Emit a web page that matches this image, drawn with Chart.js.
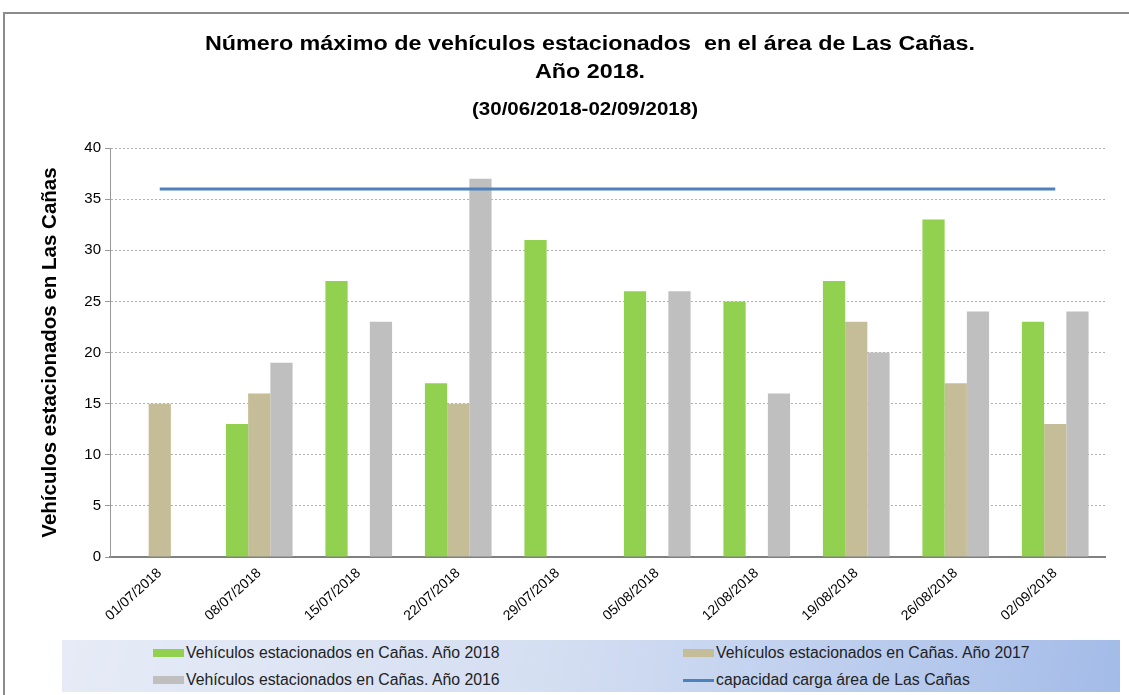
<!DOCTYPE html>
<html>
<head>
<meta charset="utf-8">
<script src="https://cdn.jsdelivr.net/npm/chart.js@4"></script>
<style>
  html, body { margin: 0; padding: 0; background: #fff; }
  #wrap { position: relative; width: 1129px; height: 695px; overflow: hidden; font-family: "Liberation Sans", Arial, sans-serif; }
  #frame { position: absolute; left: 3px; top: 12px; right: -5px; bottom: -5px; border-left: 2px solid #8c8c8c; border-top: 2px solid #8c8c8c; }
  canvas { position: absolute; left: 0; top: 0; }
  #leyenda { position: absolute; left: 62px; top: 640px; width: 1058px; height: 52px;
    background: linear-gradient(100deg, #e6ebf6 0%, #d5dff2 45%, #b3c7ec 85%, #a3bbe8 100%); }
  .item { position: absolute; font-size: 15.8px; color: #222; white-space: nowrap; display: flex; align-items: center; height: 20px; }
  .sw { display: inline-block; width: 31px; height: 8px; margin-right: 2px; }
  .ln { display: inline-block; width: 31px; height: 3px; margin-right: 2px; }
</style>
</head>
<body>
<div id="wrap">
  <div id="frame"></div>
  <canvas id="grafico" width="1129" height="695"></canvas>
  <div id="leyenda"></div>
</div>
<script>
// Fechas (semanas) y valores
const fechas = ["01/07/2018", "08/07/2018", "15/07/2018", "22/07/2018", "29/07/2018",
  "05/08/2018", "12/08/2018", "19/08/2018", "26/08/2018", "02/09/2018"];
const anio2018 = [null, 13, 27, 17, 31, 26, 25, 27, 33, 23];
const anio2017 = [15, 16, null, 15, null, null, null, 23, 17, 13];
const anio2016 = [null, 19, 23, 37, null, 26, 16, 20, 24, 24];
const capacidad = [36, 36, 36, 36, 36, 36, 36, 36, 36, 36];
const ticksY = [0, 5, 10, 15, 20, 25, 30, 35, 40];

const titulo = ["Número máximo de vehículos estacionados  en el área de Las Cañas.", "Año 2018."];
const subtitulo = "(30/06/2018-02/09/2018)";
const tituloEjeY = "Vehículos estacionados en Las Cañas";

// titulos dibujados a mano (algo ensanchados, como en el original)
function textoEscalado(ctx, txt, x, y, f) {
  ctx.save();
  ctx.translate(x, y);
  ctx.scale(f, 1);
  ctx.fillText(txt, 0, 0);
  ctx.restore();
}

const titulos = {
  id: "titulos",
  afterDraw(chart) {
    const ctx = chart.ctx;
    ctx.save();
    ctx.fillStyle = "#000";
    ctx.textAlign = "center";
    ctx.textBaseline = "middle";
    ctx.font = "bold 20px 'Liberation Sans', Arial, sans-serif";
    const f = 770 / ctx.measureText(titulo[0]).width;
    textoEscalado(ctx, titulo[0], 590, 44, f);
    textoEscalado(ctx, titulo[1], 590, 72, f);
    ctx.font = "bold 18px 'Liberation Sans', Arial, sans-serif";
    textoEscalado(ctx, subtitulo, 585, 110, 226 / ctx.measureText(subtitulo).width);
    ctx.restore();
  }
};

const ctx = document.getElementById("grafico").getContext("2d");
const chart = new Chart(ctx, {
  type: "bar",
  data: {
    labels: fechas,
    datasets: [
      { label: "Vehículos estacionados en Cañas. Año 2018", data: anio2018, backgroundColor: "#92d050", order: 2 },
      { label: "Vehículos estacionados en Cañas. Año 2017", data: anio2017, backgroundColor: "#c4bd97", order: 2 },
      { label: "Vehículos estacionados en Cañas. Año 2016", data: anio2016, backgroundColor: "#bfbfbf", order: 2 },
      { label: "capacidad carga área de Las Cañas", data: capacidad, type: "line", borderColor: "#4f81bd",
        borderWidth: 3, pointRadius: 0, fill: false, order: 1 }
    ]
  },
  options: {
    responsive: false,
    animation: false,
    layout: { padding: { left: 38, right: 24, top: 148, bottom: 58 } },
    datasets: { bar: { categoryPercentage: 0.67, barPercentage: 1.0 } },
    plugins: { legend: { display: false }, title: { display: false }, tooltip: { enabled: false } },
    scales: {
      x: {
        grid: { display: false, drawTicks: false },
        border: { color: "#808080", width: 2 },
        ticks: { color: "#000", font: { size: 14, family: "'Liberation Sans', Arial, sans-serif" },
          minRotation: 42, maxRotation: 42, padding: 8 },
        afterFit(scale) { scale.height = 80; }
      },
      y: {
        min: 0, max: 40,
        afterBuildTicks(scale) { scale.ticks = ticksY.map(v => ({ value: v })); },
        grid: {
          color: c => c.tick && c.tick.value === 0 ? "rgba(0,0,0,0)" : "#b0b0b0",
          tickColor: "#999", tickLength: 5, drawOnChartArea: true
        },
        border: { color: "#999", width: 1, dash: [2, 2] },
        ticks: { color: "#000", font: { size: 15, family: "'Liberation Sans', Arial, sans-serif" }, padding: 4 },
        title: { display: true, text: tituloEjeY, color: "#000",
          font: { size: 20.5, weight: "bold", family: "'Liberation Sans', Arial, sans-serif" }, padding: { top: 0, bottom: 0 } },
        afterFit(scale) { scale.width = 72; }
      }
    }
  },
  plugins: [titulos]
});

// leyenda en HTML a partir de los datasets
const posiciones = [[91, 3], [621, 3], [91, 30], [621, 30]];
const leyenda = document.getElementById("leyenda");
chart.data.datasets.forEach((ds, i) => {
  const item = document.createElement("div");
  item.className = "item";
  item.style.left = posiciones[i][0] + "px";
  item.style.top = posiciones[i][1] + "px";
  const m = document.createElement("span");
  if (ds.type === "line") { m.className = "ln"; m.style.background = ds.borderColor; }
  else { m.className = "sw"; m.style.background = ds.backgroundColor; }
  item.appendChild(m);
  item.appendChild(document.createTextNode(ds.label));
  leyenda.appendChild(item);
});
</script>
</body>
</html>
